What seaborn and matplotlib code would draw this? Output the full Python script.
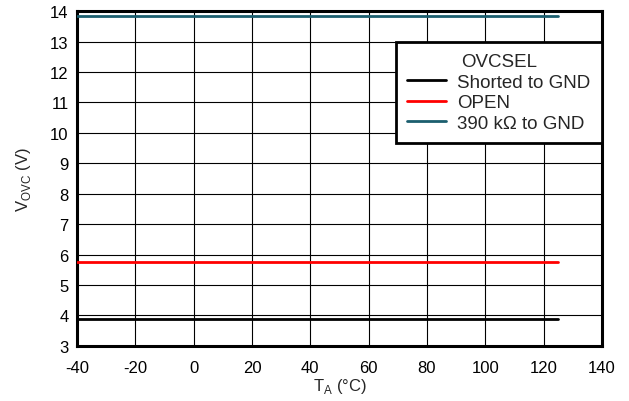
import matplotlib
matplotlib.use("Agg")
import matplotlib.pyplot as plt
import seaborn as sns
import pandas as pd

# Over-voltage clamp threshold vs. ambient temperature for each OVCSEL setting
temps = [-40, 125]
series_names = ["Shorted to GND", "OPEN", "390 k\u03a9 to GND"]
shorted_v = [3.9, 3.9]
open_v = [5.75, 5.75]
r390k_v = [13.85, 13.85]
colors = ["#000000", "#ff0000", "#1b5e6e"]

x_ticks = list(range(-40, 141, 20))
y_ticks = list(range(3, 15))

df = pd.concat([
    pd.DataFrame({"T": temps, "V": shorted_v, "OVCSEL": series_names[0]}),
    pd.DataFrame({"T": temps, "V": open_v, "OVCSEL": series_names[1]}),
    pd.DataFrame({"T": temps, "V": r390k_v, "OVCSEL": series_names[2]}),
])

sns.set_theme(style="white")
plt.rcParams["font.family"] = ["Liberation Sans", "DejaVu Sans"]

fig = plt.figure(figsize=(6.29, 4.02), dpi=100)
ax = fig.add_axes([0.1224, 0.137, 0.8346, 0.833])

sns.lineplot(data=df, x="T", y="V", hue="OVCSEL", hue_order=series_names,
             palette=colors, linewidth=2.0, ax=ax, zorder=3)

ax.set_xlim(-40, 140)
ax.set_ylim(3, 14)
ax.set_xticks(x_ticks)
ax.set_yticks(y_ticks)
ax.set_xticklabels([str(t) for t in x_ticks])
ax.set_yticklabels([str(t) for t in y_ticks])
ax.tick_params(axis="both", labelsize=12, length=0, colors="black")
ax.tick_params(axis="x", pad=10)
ax.tick_params(axis="y", pad=6)
ax.grid(True, color="black", linewidth=0.8)
for s in ax.spines.values():
    s.set_visible(True)
    s.set_color("black")
    s.set_linewidth(2.2)

ax.set_xlabel("T$_\\mathregular{A}$ (\u00b0C)", fontsize=12, labelpad=1)
ax.set_ylabel("V$_\\mathregular{OVC}$ (V)", fontsize=12, labelpad=12)

leg = ax.legend(title="OVCSEL", loc="upper right", bbox_to_anchor=(1.0, 0.9075),
                fontsize=13.5, title_fontsize=13.5, frameon=True,
                fancybox=False, handlelength=2.1, handletextpad=0.6,
                borderpad=0.6, labelspacing=0.18, borderaxespad=0.0)
frame = leg.get_frame()
frame.set_edgecolor("black")
frame.set_linewidth(2.0)
frame.set_facecolor("white")
frame.set_alpha(1.0)
leg.set_zorder(5)

fig.savefig("out.png", dpi=100, facecolor="white")
